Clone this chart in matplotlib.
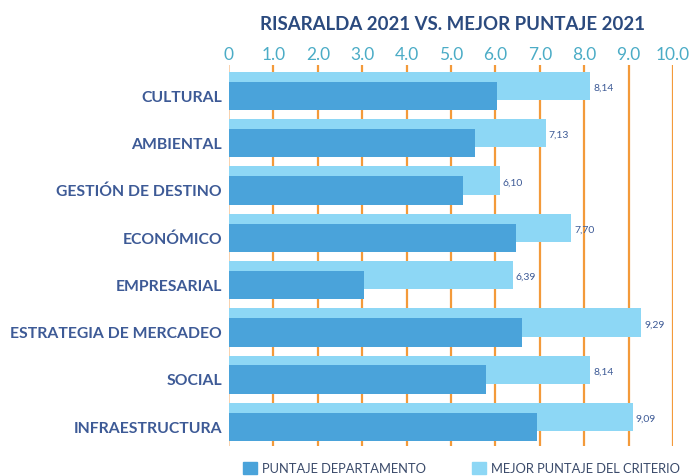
import matplotlib
matplotlib.use("Agg")
import matplotlib.pyplot as plt
from matplotlib.patches import Patch
import numpy as np

categories = ["CULTURAL", "AMBIENTAL", "GESTIÓN DE DESTINO", "ECONÓMICO",
              "EMPRESARIAL", "ESTRATEGIA DE MERCADEO", "SOCIAL", "INFRAESTRUCTURA"]
puntaje_departamento = [6.03, 5.55, 5.27, 6.46, 3.04, 6.59, 5.78, 6.93]
mejor_puntaje = [8.14, 7.13, 6.10, 7.70, 6.39, 9.29, 8.14, 9.09]
x_ticks = [0, 1, 2, 3, 4, 5, 6, 7, 8, 9, 10]
x_tick_labels = ["0", "1.0", "2.0", "3.0", "4.0", "5.0", "6.0", "7.0", "8.0", "9.0", "10.0"]

LIGHT = "#8DD7F5"
DARK = "#4AA3DA"
GRID = "#F39A3A"
TEAL = "#4BACC6"
LABEL = "#3D5A96"
TITLE = "#2B4A7E"

plt.rcParams["font.family"] = ["Lato", "DejaVu Sans"]

fig = plt.figure(figsize=(6.93, 4.77), dpi=100)
W, H = 693, 477
ax = fig.add_axes([229 / W, 1 - 447 / H, (673 - 229) / W, (447 - 66) / H])

y = np.arange(len(categories))
bar_h = 0.6
shift = 0.105

ax.barh(y - shift, mejor_puntaje, height=bar_h, color=LIGHT, zorder=2)
ax.barh(y + shift, puntaje_departamento, height=bar_h, color=DARK, zorder=3)

for yi, v in zip(y, mejor_puntaje):
    ax.text(v + 0.07, yi - shift + 0.03, f"{v:.2f}".replace(".", ","),
            va="center", ha="left", fontsize=7.5, color=LABEL, zorder=4)

# vertical grid
for xt in x_ticks:
    ax.axvline(xt, color=("#F7C9A0" if xt == 0 else GRID),
               lw=(1.2 if xt == 0 else 1.6), zorder=1)

ax.set_xlim(0, 10)
ax.set_ylim(7.507, -0.546)
ax.xaxis.tick_top()
ax.set_xticks(x_ticks)
ax.set_xticklabels(x_tick_labels, color=TEAL, fontsize=12.5)
ax.set_yticks(y + 0.09)
ax.set_yticklabels(categories, fontweight="bold", fontsize=11.3, color=LABEL)
ax.tick_params(axis="both", length=0)
ax.tick_params(axis="x", pad=2.5)
ax.tick_params(axis="y", pad=5)
for s in ax.spines.values():
    s.set_visible(False)

fig.text(452 / W, 1 - 24 / H, "RISARALDA 2021 VS. MEJOR PUNTAJE 2021",
         ha="center", va="center", fontsize=13.4, fontweight="bold", color=TITLE)

handles = [Patch(color=DARK, label="PUNTAJE DEPARTAMENTO"),
           Patch(color=LIGHT, label="MEJOR PUNTAJE DEL CRITERIO")]
fig.legend(handles=handles, loc="center left", bbox_to_anchor=(243 / W, 1 - 469 / H),
           ncol=2, frameon=False, fontsize=9.3, handlelength=1.1, handleheight=1.1,
           handletextpad=0.35, columnspacing=3.6, labelcolor="#3A4A6A",
           borderpad=0, borderaxespad=0)

fig.savefig("out.png", dpi=100)
